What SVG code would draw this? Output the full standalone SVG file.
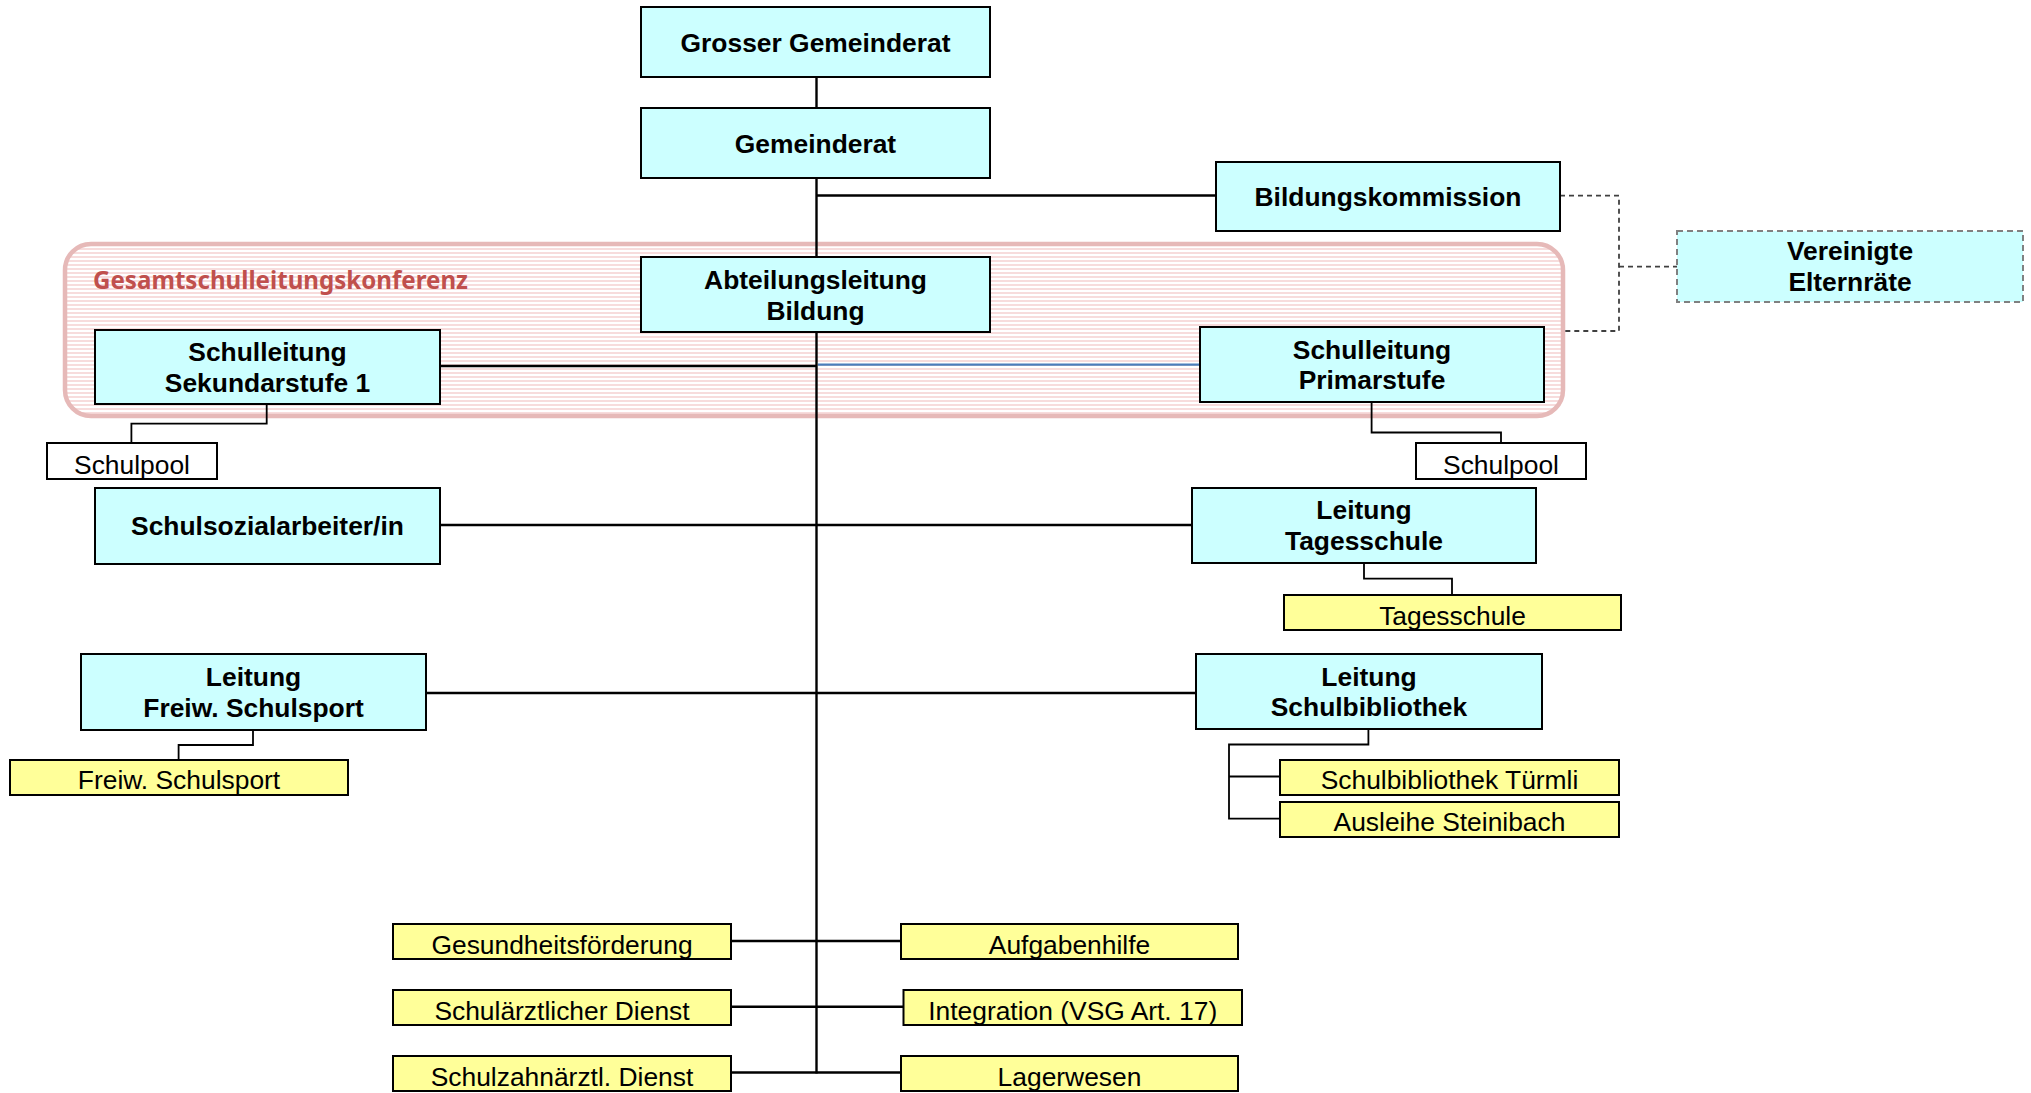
<svg xmlns="http://www.w3.org/2000/svg" width="2031" height="1093" viewBox="0 0 2031 1093">
<style>
.c{fill:#ccffff;stroke:#000;stroke-width:2}
.y{fill:#ffff99;stroke:#000;stroke-width:2}
.w{fill:#fff;stroke:#000;stroke-width:2}
.b{font-family:"Liberation Sans",Arial,sans-serif;font-weight:bold;font-size:26.4px;fill:#000;text-anchor:middle}
.r{font-family:"Liberation Sans",Arial,sans-serif;font-size:26.4px;fill:#000;text-anchor:middle}
.ln{fill:none;stroke:#000;stroke-width:2.4}
.sm{fill:none;stroke:#000;stroke-width:1.8}
.ds{fill:none;stroke:#404040;stroke-width:1.8;stroke-dasharray:5 4}
</style>
<defs>
<pattern id="stripes" width="4" height="4" patternUnits="userSpaceOnUse">
<rect width="4" height="4" fill="#ffffff"/>
<rect width="4" height="2" fill="#f7dcdc"/>
</pattern>
</defs>
<rect width="2031" height="1093" fill="#fff"/>
<g id="gesamtschulleitungskonferenz">
<rect x="65" y="244" width="1498" height="172" rx="26" fill="url(#stripes)" stroke="#e6b9b8" stroke-width="4.5"/>
<text x="93" y="289" font-family="'Noto Sans','Open Sans',sans-serif" font-weight="bold" font-size="25" fill="#c0504d" textLength="375" lengthAdjust="spacingAndGlyphs">Gesamtschulleitungskonferenz</text>
</g>
<g id="connectors">
<line class="ln" x1="816.5" y1="77" x2="816.5" y2="1073.5"/>
<line class="ln" x1="816.5" y1="195.5" x2="1216" y2="195.5"/>
<line class="ln" x1="440" y1="366" x2="816.5" y2="366"/>
<line x1="818" y1="364.7" x2="1200" y2="364.7" stroke="#4a7ebb" stroke-width="2.2"/>
<line class="ln" x1="440" y1="525" x2="1192" y2="525"/>
<line class="ln" x1="426" y1="693" x2="1196" y2="693"/>
<line class="ln" x1="731" y1="941" x2="901" y2="941"/>
<line class="ln" x1="731" y1="1006.7" x2="903.5" y2="1006.7"/>
<line class="ln" x1="731" y1="1072.5" x2="901" y2="1072.5"/>
<polyline class="sm" points="266.7,404 266.7,423.7 131.4,423.7 131.4,443"/>
<polyline class="sm" points="1371.6,402 1371.6,432.5 1501,432.5 1501,443"/>
<polyline class="sm" points="1364,563 1364,578.7 1452,578.7 1452,595"/>
<polyline class="sm" points="253,730 253,745 178.6,745 178.6,760"/>
<polyline class="sm" points="1368.4,729 1368.4,744.5 1229,744.5 1229,818.6 1280,818.6"/>
<line class="sm" x1="1229" y1="776.5" x2="1280" y2="776.5"/>
<polyline class="ds" points="1560,195.7 1619,195.7 1619,331 1564,331"/>
<line class="ds" x1="1619" y1="266.7" x2="1677" y2="266.7"/>
</g>
<g id="grosser-gemeinderat"><rect class="c" x="641" y="7" width="349" height="70"/><text class="b" x="815.5" y="51.5">Grosser Gemeinderat</text></g>
<g id="gemeinderat"><rect class="c" x="641" y="108" width="349" height="70"/><text class="b" x="815.5" y="152.5">Gemeinderat</text></g>
<g id="bildungskommission"><rect class="c" x="1216" y="162" width="344" height="69"/><text class="b" x="1388" y="206">Bildungskommission</text></g>
<g id="vereinigte-elternraete"><rect x="1677" y="231" width="346" height="71" fill="#ccffff" stroke="#808080" stroke-width="2" stroke-dasharray="6 4"/><text class="b" x="1850" y="259.5">Vereinigte</text><text class="b" x="1850" y="290.5">Elternräte</text></g>
<g id="abteilungsleitung-bildung"><rect class="c" x="641" y="257" width="349" height="75"/><text class="b" x="815.5" y="289">Abteilungsleitung</text><text class="b" x="815.5" y="320">Bildung</text></g>
<g id="schulleitung-sekundarstufe"><rect class="c" x="95" y="330" width="345" height="74"/><text class="b" x="267.5" y="360.5">Schulleitung</text><text class="b" x="267.5" y="391.5">Sekundarstufe 1</text></g>
<g id="schulleitung-primarstufe"><rect class="c" x="1200" y="327" width="344" height="75"/><text class="b" x="1372" y="358.5">Schulleitung</text><text class="b" x="1372" y="389">Primarstufe</text></g>
<g id="schulpool-links"><rect class="w" x="47" y="443" width="170" height="36"/><text class="r" x="132" y="473.5">Schulpool</text></g>
<g id="schulpool-rechts"><rect class="w" x="1416" y="443" width="170" height="36"/><text class="r" x="1501" y="473.5">Schulpool</text></g>
<g id="schulsozialarbeiter"><rect class="c" x="95" y="488" width="345" height="76"/><text class="b" x="267.5" y="535">Schulsozialarbeiter/in</text></g>
<g id="leitung-tagesschule"><rect class="c" x="1192" y="488" width="344" height="75"/><text class="b" x="1364" y="519">Leitung</text><text class="b" x="1364" y="550">Tagesschule</text></g>
<g id="tagesschule"><rect class="y" x="1284" y="595" width="337" height="35"/><text class="r" x="1452.5" y="624.5">Tagesschule</text></g>
<g id="leitung-freiw-schulsport"><rect class="c" x="81" y="654" width="345" height="76"/><text class="b" x="253.5" y="685.5">Leitung</text><text class="b" x="253.5" y="716.5">Freiw. Schulsport</text></g>
<g id="freiw-schulsport"><rect class="y" x="10" y="760" width="338" height="35"/><text class="r" x="179" y="789">Freiw. Schulsport</text></g>
<g id="leitung-schulbibliothek"><rect class="c" x="1196" y="654" width="346" height="75"/><text class="b" x="1369" y="685.5">Leitung</text><text class="b" x="1369" y="716">Schulbibliothek</text></g>
<g id="schulbibliothek-tuermli"><rect class="y" x="1280" y="760" width="339" height="35"/><text class="r" x="1449.5" y="789">Schulbibliothek Türmli</text></g>
<g id="ausleihe-steinibach"><rect class="y" x="1280" y="802" width="339" height="35"/><text class="r" x="1449.5" y="831">Ausleihe Steinibach</text></g>
<g id="gesundheitsfoerderung"><rect class="y" x="393" y="924" width="338" height="35"/><text class="r" x="562" y="954">Gesundheitsförderung</text></g>
<g id="schulaerztlicher-dienst"><rect class="y" x="393" y="990" width="338" height="35"/><text class="r" x="562" y="1019.5">Schulärztlicher Dienst</text></g>
<g id="schulzahnaerztl-dienst"><rect class="y" x="393" y="1056" width="338" height="35"/><text class="r" x="562" y="1085.5">Schulzahnärztl. Dienst</text></g>
<g id="aufgabenhilfe"><rect class="y" x="901" y="924" width="337" height="35"/><text class="r" x="1069.5" y="954">Aufgabenhilfe</text></g>
<g id="integration"><rect class="y" x="903.5" y="990" width="338.5" height="35"/><text class="r" x="1072.7" y="1019.5">Integration (VSG Art. 17)</text></g>
<g id="lagerwesen"><rect class="y" x="901" y="1056" width="337" height="35"/><text class="r" x="1069.5" y="1085.5">Lagerwesen</text></g>
</svg>
